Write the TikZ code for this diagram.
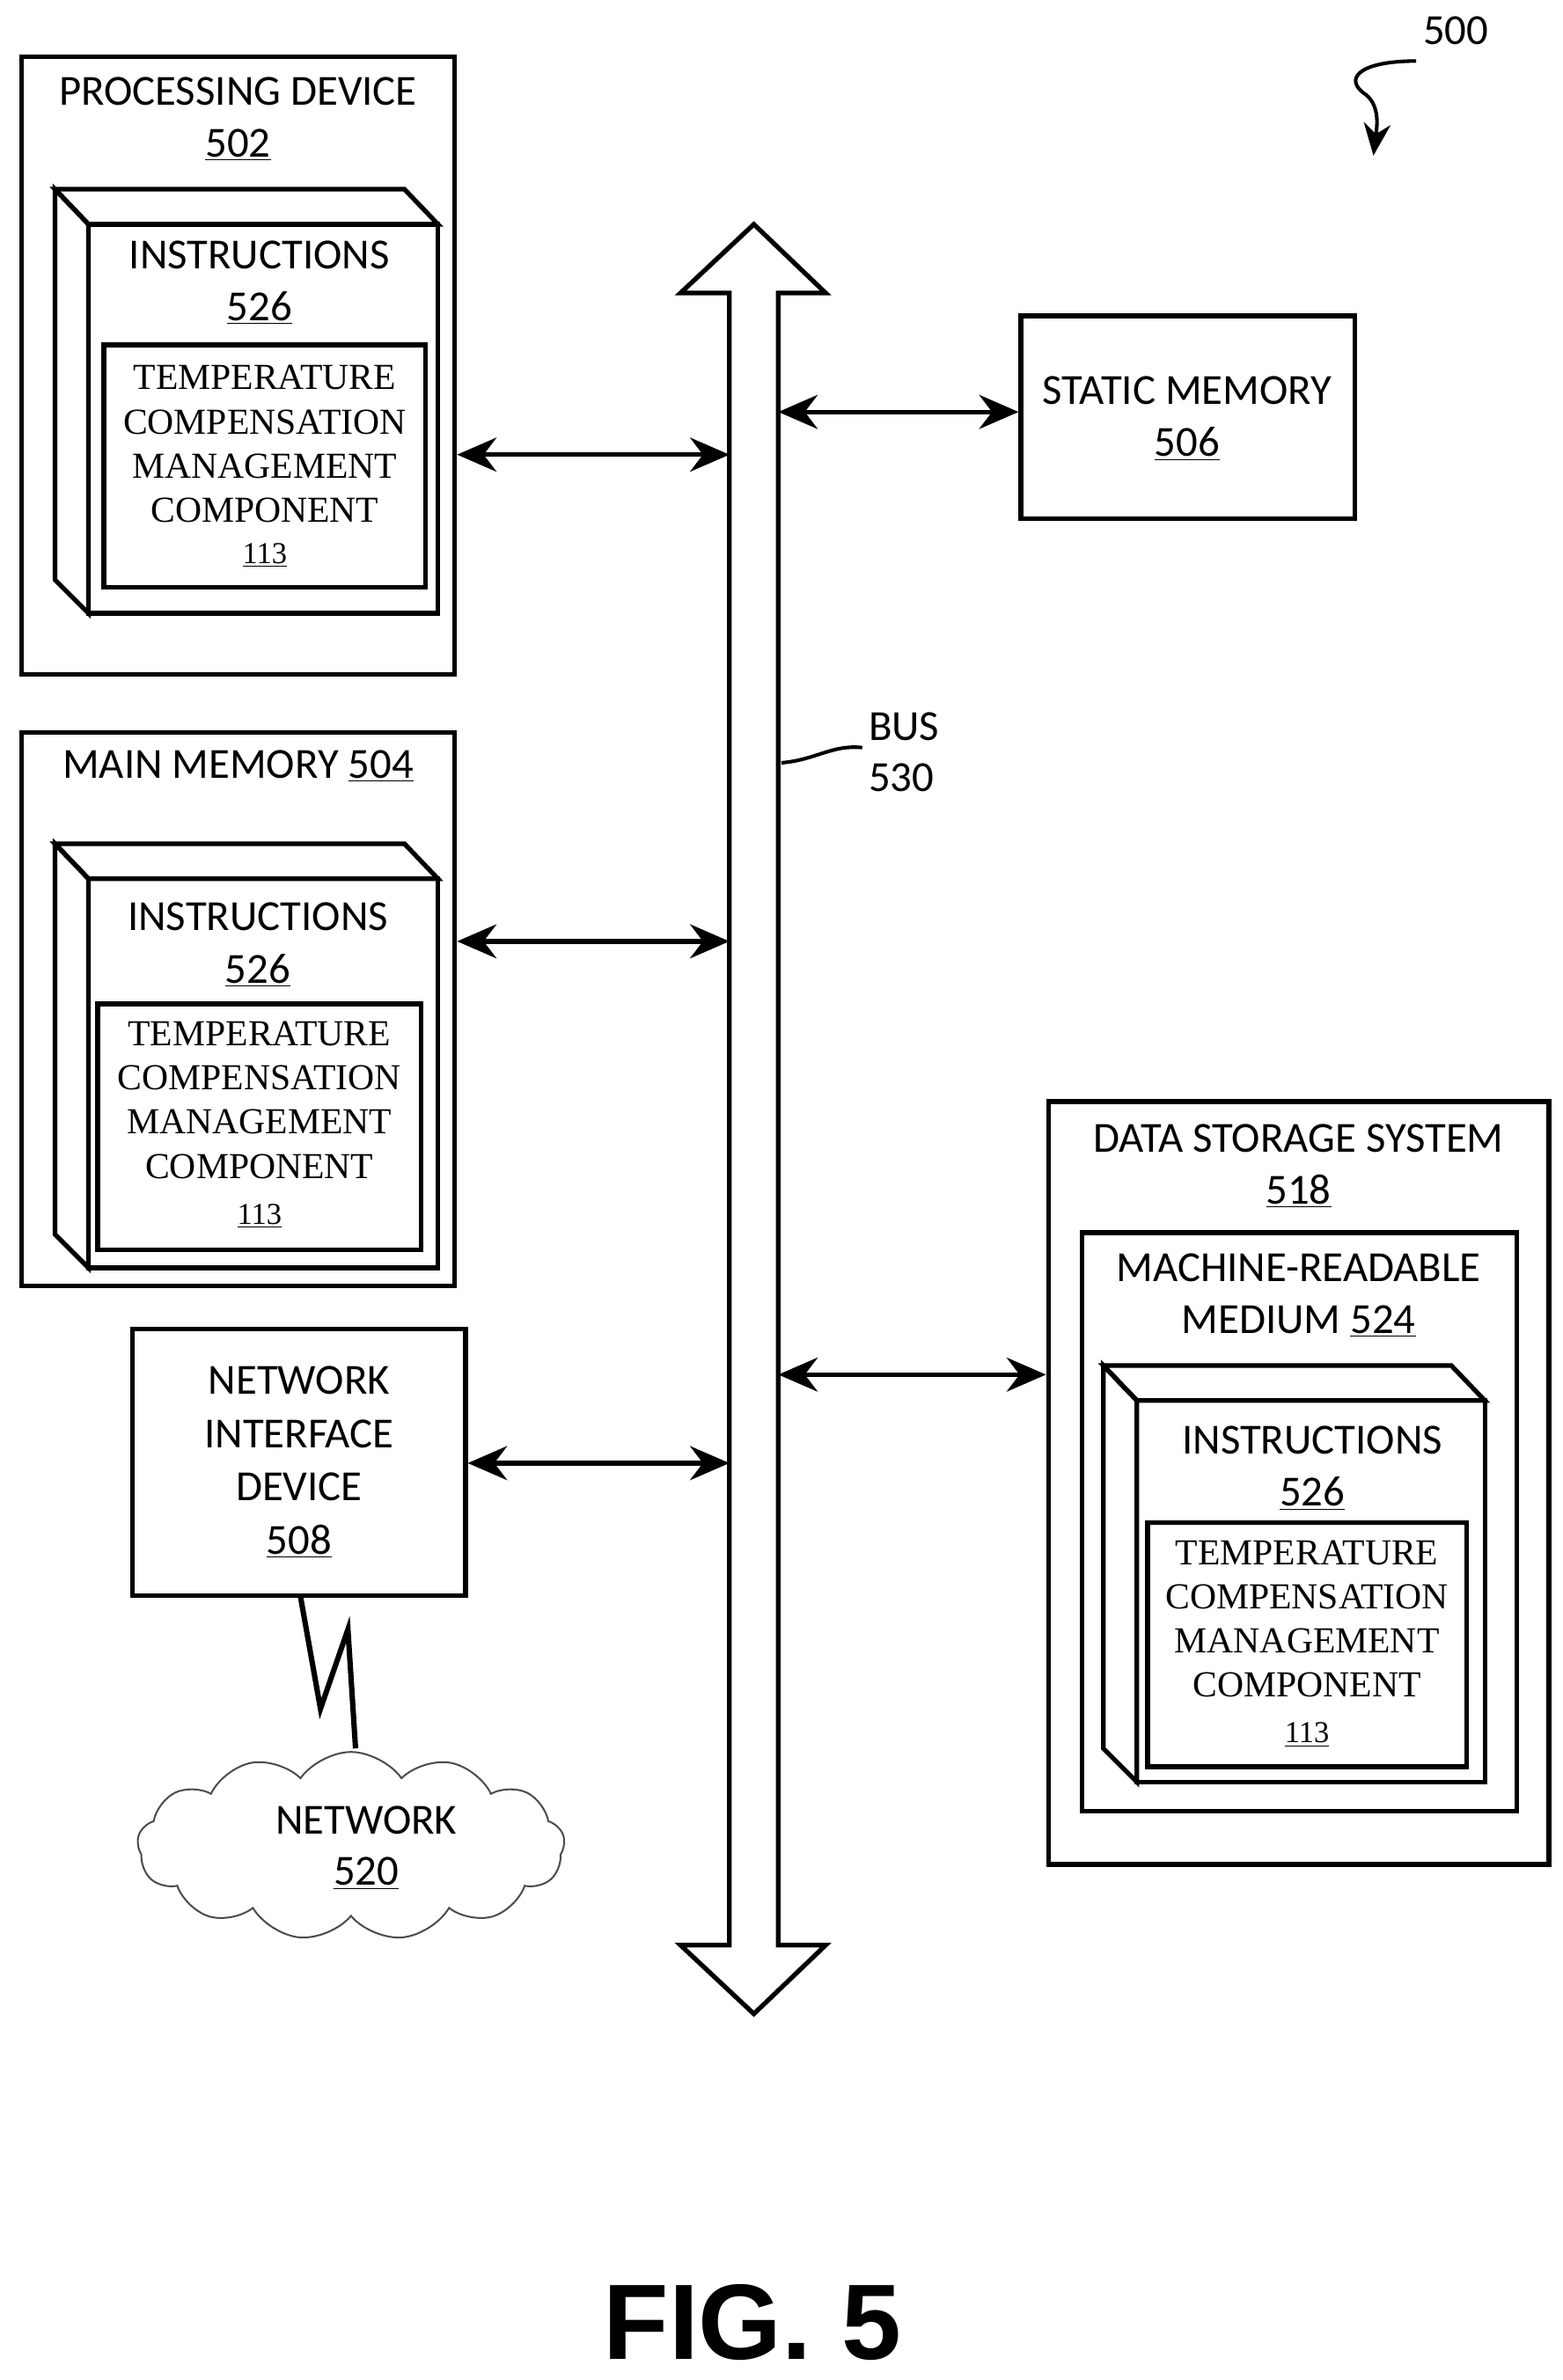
\documentclass[tikz,border=0pt]{standalone}
\usepackage{fontspec}
\setmainfont{Carlito}
\newfontfamily\serifcomp{Liberation Serif}
\newfontfamily\figfont{Liberation Sans}
\usetikzlibrary{arrows.meta}
\usetikzlibrary{shapes.symbols}
\usetikzlibrary{calc}

\tikzset{
  box/.style={draw, line width=2.6pt, inner sep=0pt},
  lbl/.style={font=\fontsize{24}{28}\selectfont, inner sep=0pt, align=center},
  comp/.style={font=\serifcomp\fontsize{20.5}{24.7}\selectfont, inner sep=0pt, align=center},
  biarrow/.style={line width=2.6pt, {Stealth[length=22pt,width=19pt]}-{Stealth[length=22pt,width=19pt]}},
}
% 3D instruction slab: front top-left, front bottom-right
\newcommand{\slab}[4]{%
  \draw[line width=2.6pt, line join=miter] (#1-22,#2-23) -- (#3-22,#2-23) -- (#3,#2) -- (#1,#2) -- cycle;
  \draw[line width=2.6pt, line join=miter] (#1-22,#2-23) -- (#1,#2) -- (#1,#4) -- (#1-22,#4-22) -- cycle;
  \draw[line width=2.6pt] (#1,#2) rectangle (#3,#4);
}

\begin{document}
\begin{tikzpicture}[x=0.03cm, y=-0.03cm]
\useasboundingbox (0,0) rectangle (1024,1560);

% bus
\coordinate (busW) at (478,0);
\coordinate (busE) at (510,0);
\draw[line width=2.6pt, line join=miter] (494,147) -- (541,192) -- (510,192) -- (510,1275) -- (541,1275)
  -- (494,1320) -- (446,1275) -- (478,1275) -- (478,192) -- (446,192) -- cycle;
\node[lbl, anchor=west] (buslbl) at (569,476) {BUS};
\node[lbl, anchor=west] (busnum) at (569,510) {530};
\draw[line width=2pt] (512,500) .. controls (535,498) and (545,488) .. (565,490);

% processing device
\node[box, minimum width=8.52cm, minimum height=12.15cm] (pd) at (156,239.5) {};
\node[lbl] (pdt) at (156,60) {PROCESSING DEVICE};
\node[lbl] (pdn) at (156,95) {\underline{502}};
\slab{58}{147}{287}{402}
\node[lbl] (pdi) at (170,167) {INSTRUCTIONS};
\node[lbl] (pdin) at (170,202) {\underline{526}};
\node[box, minimum width=6.33cm, minimum height=4.77cm] (pdc) at (173.5,305.5) {};
\node[comp] (pdct) at (173.5,291) {TEMPERATURE\\COMPENSATION\\MANAGEMENT\\COMPONENT};
\node[comp, font=\serifcomp\fontsize{17}{19}\selectfont] (pdcn) at (173.5,364) {\underline{113}};
\draw[biarrow] (pd.east |- 0,298) -- (busW |- 0,298);

% main memory
\node[box, minimum width=8.52cm, minimum height=10.89cm] (mm) at (156,661.5) {};
\node[lbl] (mmt) at (156,502) {MAIN MEMORY \underline{504}};
\slab{58}{576}{287}{831}
\node[lbl] (mmi) at (169,601) {INSTRUCTIONS};
\node[lbl] (mmin) at (169,636) {\underline{526}};
\node[box, minimum width=6.36cm, minimum height=4.83cm] (mmc) at (170,738.5) {};
\node[comp] (mmct) at (170,721) {TEMPERATURE\\COMPENSATION\\MANAGEMENT\\COMPONENT};
\node[comp, font=\serifcomp\fontsize{17}{19}\selectfont] (mmcn) at (170,797) {\underline{113}};
\draw[biarrow] (mm.east |- 0,617) -- (busW |- 0,617);

% network interface device
\node[box, minimum width=6.54cm, minimum height=5.25cm] (nid) at (196,958.5) {};
\node[lbl, font=\fontsize{24}{29.8}\selectfont] (nidt) at (196,958.5) {NETWORK\\INTERFACE\\DEVICE\\\underline{508}};
\draw[biarrow] (nid.east |- 0,959) -- (busW |- 0,959);

% network
\node[cloud, cloud puffs=13, cloud puff arc=110, aspect=2.4, draw=black!70, line width=1pt,
  minimum width=8.4cm, minimum height=3.7cm] (net) at (230,1210) {};
\node[lbl] (nett) at (240,1193) {NETWORK};
\node[lbl] (netn) at (240,1228) {\underline{520}};
\draw[line width=3pt, line join=miter] (197,1047) -- (210,1120) -- (228,1068) -- (233,1146);

% static memory
\node[box, minimum width=6.57cm, minimum height=3.99cm] (sm) at (778.5,273.5) {};
\node[lbl] (smt) at (778,256) {STATIC MEMORY};
\node[lbl] (smn) at (778,291) {\underline{506}};
\draw[biarrow] (busE |- 0,270) -- (sm.west |- 0,270);

% data storage system
\node[box, minimum width=9.84cm, minimum height=15cm] (dss) at (851,972) {};
\node[lbl] (dsst) at (851,746) {DATA STORAGE SYSTEM};
\node[lbl] (dssn) at (851,781) {\underline{518}};
\node[box, minimum width=8.55cm, minimum height=11.37cm] (mrm) at (851.5,997.5) {};
\node[lbl] (mrmt) at (851,831) {MACHINE-READABLE};
\node[lbl] (mrmn) at (851,866) {MEDIUM \underline{524}};
\slab{745}{918}{973}{1168}
\node[lbl] (dsi) at (860,944) {INSTRUCTIONS};
\node[lbl] (dsin) at (860,979) {\underline{526}};
\node[box, minimum width=6.27cm, minimum height=4.8cm] (dsc) at (856.5,1078) {};
\node[comp] (dsct) at (856.5,1061) {TEMPERATURE\\COMPENSATION\\MANAGEMENT\\COMPONENT};
\node[comp, font=\serifcomp\fontsize{17}{19}\selectfont] (dscn) at (856.5,1137) {\underline{113}};
\draw[biarrow] (busE |- 0,901) -- (dss.west |- 0,901);

% reference numeral
\node[lbl] (ref) at (954,20) {500};
\draw[line width=2pt, -{Stealth[length=18pt,width=15pt]}] (928,40) .. controls (890,40) and (880,52) .. (895,62) .. controls (905,70) and (902,85) .. (900,102);

\node[font=\figfont\bfseries\fontsize{60}{70}\selectfont, inner sep=0pt] (fig) at (493,1522) {FIG. 5};
\end{tikzpicture}
\end{document}
